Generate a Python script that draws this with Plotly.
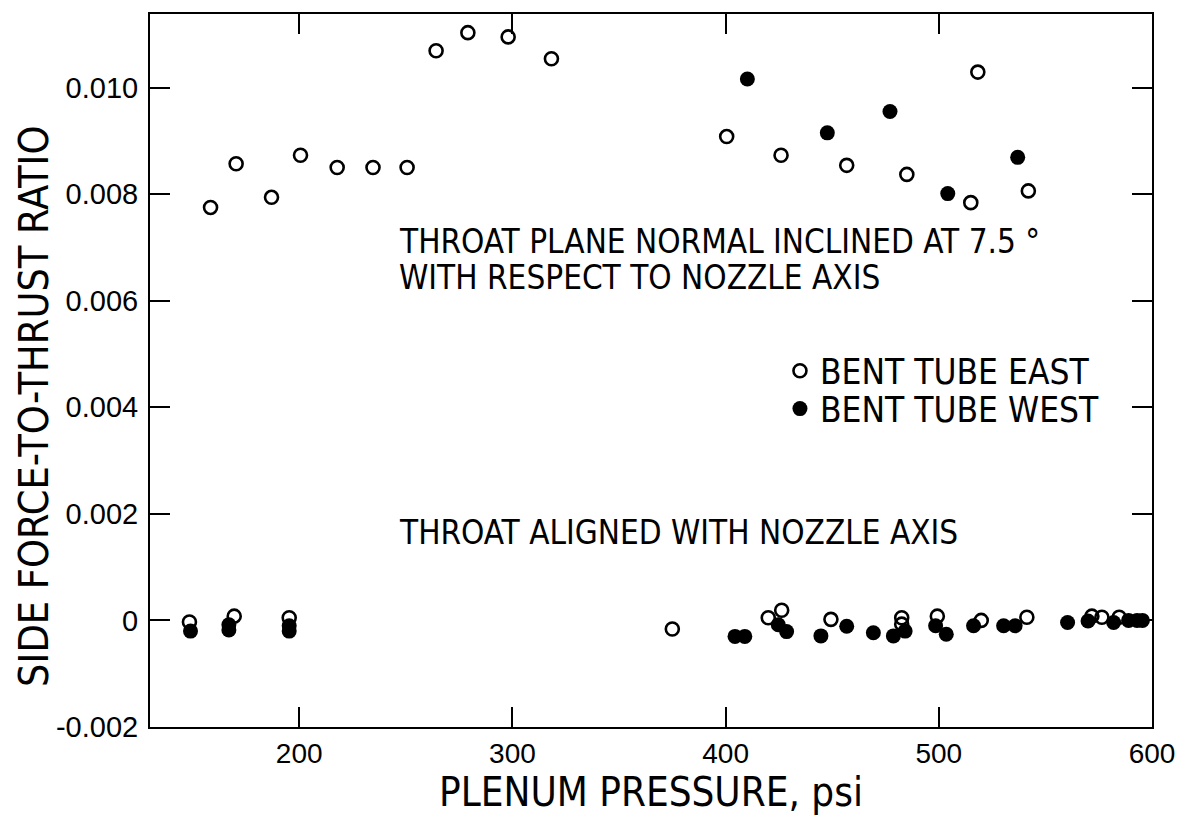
import plotly.graph_objects as go

# ---------------- data ----------------
# Bent tube EAST (open circles)
east_x = [158.4, 170.4, 187.0, 200.6, 217.8, 234.6, 250.6, 264.2, 279.1, 298.0, 318.3,
          400.5, 426.0, 456.8, 485.0, 515.0, 518.3, 542.0,
          148.5, 169.5, 195.3, 375.0, 420.0, 426.3, 449.4, 482.6, 482.6, 499.3, 519.9,
          541.3, 571.8, 576.5, 584.6]
east_y = [0.00775, 0.00857, 0.00794, 0.00873, 0.00850, 0.00850, 0.00850, 0.01069, 0.01103, 0.01095, 0.01054,
          0.00908, 0.00873, 0.00854, 0.00837, 0.00784, 0.01029, 0.00806,
          -0.00003, 0.00008, 0.00005, -0.00016, 0.00005, 0.00019, 0.00002, 0.00005, -0.00007, 0.00008, 0.00000,
          0.00006, 0.00008, 0.00006, 0.00006]

# Bent tube WEST (filled circles)
west_x = [410.2, 447.7, 477.1, 504.2, 537.0,
          149.0, 167.0, 167.0, 195.3, 195.3, 404.4, 409.0, 424.7, 428.6, 444.7, 456.8, 469.3,
          478.7, 484.2, 498.5, 503.5, 516.3, 530.4, 535.8, 560.4, 570.0, 582.0, 589.0, 593.0, 595.5]
west_y = [0.01016, 0.00915, 0.00955, 0.00801, 0.00869,
          -0.00020, -0.00008, -0.00018, -0.00010, -0.00020, -0.00030, -0.00030, -0.00008, -0.00021,
          -0.00029, -0.00011, -0.00023, -0.00029, -0.00020, -0.00010, -0.00026, -0.00010, -0.00010,
          -0.00010, -0.00004, -0.00001, -0.00004, 0.00000, 0.00000, 0.00000]

x_ticks = [200, 300, 400, 500, 600]
x_ticktext = ["200", "300", "400", "500", "600"]
y_ticks = [-0.002, 0.0, 0.002, 0.004, 0.006, 0.008, 0.010]
y_ticktext = ["-0.002", "0", "0.002", "0.004", "0.006", "0.008", "0.010"]

NARROW = "Liberation Sans Narrow, Arial Narrow, DejaVu Sans Condensed, sans-serif"
REG = "Liberation Sans, Arial, Helvetica, sans-serif"

fig = go.Figure()
fig.add_trace(go.Scatter(
    x=east_x, y=east_y, mode="markers", name="BENT TUBE EAST", legend="legend",
    marker=dict(symbol="circle-open", size=13, color="black", line=dict(width=2.6, color="black")),
))
fig.add_trace(go.Scatter(
    x=west_x, y=west_y, mode="markers", name="BENT TUBE WEST", legend="legend2",
    marker=dict(symbol="circle", size=15, color="black", line=dict(width=0)),
))

ann_font = dict(family=NARROW, size=33, color="black")
title_font = dict(family=NARROW, size=40, color="black")
fig.add_annotation(x=246, y=0.00712, xref="x", yref="y", xanchor="left", yanchor="middle",
                   text="THROAT PLANE NORMAL INCLINED AT 7.5 °", showarrow=False, font=ann_font)
fig.add_annotation(x=246, y=0.00643, xref="x", yref="y", xanchor="left", yanchor="middle",
                   text="WITH RESPECT TO NOZZLE AXIS", showarrow=False, font=ann_font)
fig.add_annotation(x=246, y=0.00165, xref="x", yref="y", xanchor="left", yanchor="middle",
                   text="THROAT ALIGNED WITH NOZZLE AXIS", showarrow=False, font=ann_font)
fig.add_annotation(x=-0.116, y=0.45, xref="paper", yref="paper", text="SIDE FORCE-TO-THRUST RATIO",
                   showarrow=False, textangle=-90, font=dict(family=NARROW, size=41, color="black"),
                   xanchor="center", yanchor="middle")
fig.add_annotation(x=0.5, y=-0.0915, xref="paper", yref="paper", text="PLENUM PRESSURE, psi",
                   showarrow=False, font=title_font, xanchor="center", yanchor="middle")

leg_common = dict(xanchor="left", yanchor="middle",
                  font=dict(family=NARROW, size=35, color="black"),
                  bgcolor="rgba(0,0,0,0)", itemwidth=30)

fig.update_layout(
    width=1177, height=814,
    margin=dict(l=142, r=33, t=4, b=95),
    paper_bgcolor="white", plot_bgcolor="white",
    font=dict(family=REG, color="black", size=30),
    showlegend=True,
    legend=dict(x=0.6287, y=0.4993, **leg_common),
    legend2=dict(x=0.6287, y=0.4462, **leg_common),
    xaxis=dict(range=[130, 600], tickvals=x_ticks, ticktext=x_ticktext,
               showgrid=False, zeroline=False, showline=True, linecolor="black", linewidth=2,
               mirror="ticks", ticks="inside", ticklen=20, tickwidth=1.5, tickcolor="black",
               ticklabelstandoff=0,
               tickfont=dict(family=REG, size=28, color="black")),
    yaxis=dict(range=[-0.002, 0.01138], tickvals=y_ticks, ticktext=y_ticktext,
               showgrid=False, zeroline=False, showline=True, linecolor="black", linewidth=2,
               mirror="ticks", ticks="inside", ticklen=20, tickwidth=1.5, tickcolor="black",
               ticklabelstandoff=4,
               tickfont=dict(family=REG, size=29, color="black")),
)

fig.write_html("out.html")
